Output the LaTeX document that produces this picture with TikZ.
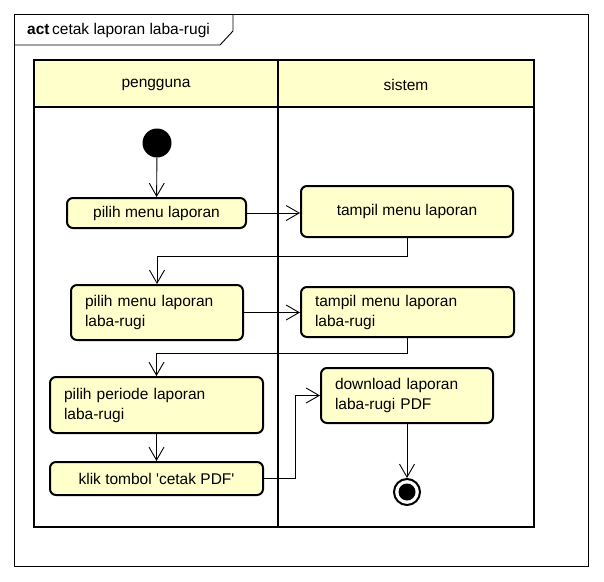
\documentclass[tikz,border=0pt]{standalone}
\usepackage{fontspec}
\setmainfont{Liberation Sans}
\usetikzlibrary{arrows.meta}
\definecolor{lanefill}{HTML}{FFFFCC}
\definecolor{nodefill}{HTML}{FFFFCC}
\begin{document}
\begin{tikzpicture}[x=1pt,y=-1pt,
  every node/.style={font=\fontsize{15.5}{20}\selectfont},
  actbox/.style={draw, line width=2pt, rounded corners=6pt, fill=nodefill, inner xsep=14pt, inner ysep=0pt},
  arr/.style={line width=0.9pt, -{Straight Barb[length=13pt,width=15pt,line width=0.9pt]}},
  flow/.style={line width=0.9pt}]
\useasboundingbox (0,0) rectangle (604,581);
% frame
\draw[line width=0.9pt] (14,14) rectangle (588,566);
\draw[line width=0.9pt] (14,45) -- (220,45) -- (233,31) -- (233,14);
\node[anchor=west, inner sep=0pt] (title) at (27,30) {\textbf{act}\,cetak laporan laba-rugi};
% swimlanes
\fill[lanefill] (34,60) rectangle (534,107);
\draw[line width=2pt] (34,60) rectangle (534,527);
\draw[line width=2pt] (34,107) -- (534,107);
\draw[line width=2pt] (278,60) -- (278,527);
\node (lane1) at (156,85) {pengguna};
\node (lane2) at (406,85) {sistem};
% start
\node[circle, fill=black, minimum size=29pt, inner sep=0pt] (start) at (157,143) {};
% actions
\node[actbox, minimum width=179pt, minimum height=30pt, align=center] (A) at (156.5,213) {pilih menu laporan};
\node[actbox, minimum width=212pt, minimum height=51pt, align=center] (B) at (407,211.5) {tampil menu laporan};
\node[actbox, minimum width=172pt, minimum height=55pt, text width=144pt, align=left] (C) at (157,312.5) {pilih menu laporan\\laba-rugi};
\node[actbox, minimum width=213pt, minimum height=50pt, text width=185pt, align=left] (D) at (407.5,312) {tampil menu laporan\\laba-rugi};
\node[actbox, minimum width=213pt, minimum height=56pt, text width=185pt, align=left] (E) at (156.5,405) {pilih periode laporan\\laba-rugi};
\node[actbox, minimum width=213pt, minimum height=33pt, align=center] (F) at (156.5,478.5) {klik tombol \textquotesingle cetak PDF\textquotesingle};
\node[actbox, minimum width=172pt, minimum height=55pt, text width=144pt, align=left] (G) at (407,395.5) {download laporan\\laba-rugi PDF};
% end
\node[circle, draw, line width=2pt, fill=white, minimum size=26pt, inner sep=0pt] (end) at (407,492) {};
\node[circle, fill=black, minimum size=17pt, inner sep=0pt] (endin) at (end) {};
% connectors
\draw[arr] (start) -- (A);
\draw[arr] (A.east) -- (A.east -| B.west);
\draw[arr] (B.south) -- ++(0,18) -| (C.north);
\draw[arr] (C.east) -- (C.east -| D.west);
\draw[arr] (D.south) -- ++(0,15) -| (E.north);
\draw[arr] (E) -- (F);
\draw[arr] (F.east) -- ++(31,0) |- (G.west);
\draw[arr] (G) -- (end);
\end{tikzpicture}
\end{document}
